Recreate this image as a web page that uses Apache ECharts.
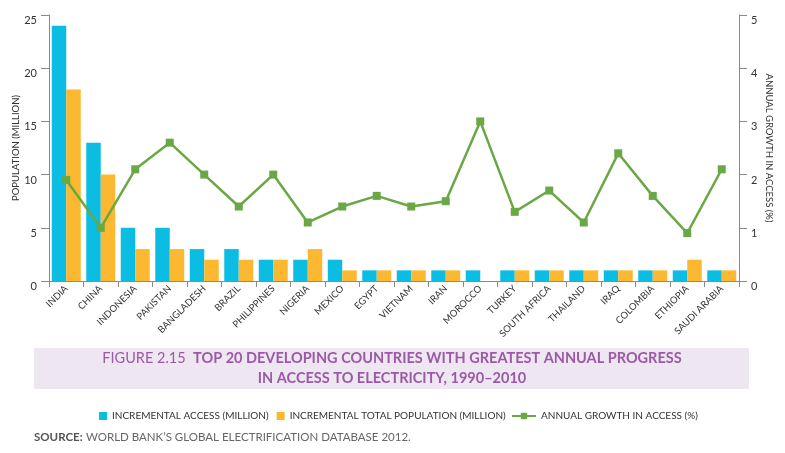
<!DOCTYPE html>
<html>
<head>
<meta charset="utf-8">
<script src="https://cdn.jsdelivr.net/npm/echarts@6/dist/echarts.min.js"></script>
<style>
html,body{margin:0;padding:0;background:#fff;}
#c{width:785px;height:453px;}
</style>
</head>
<body>
<div id="c"></div>
<script>
const countries = ['INDIA','CHINA','INDONESIA','PAKISTAN','BANGLADESH','BRAZIL','PHILIPPINES','NIGERIA','MEXICO','EGYPT','VIETNAM','IRAN','MOROCCO','TURKEY','SOUTH AFRICA','THAILAND','IRAQ','COLOMBIA','ETHIOPIA','SAUDI ARABIA'];
const incrementalAccess = [24,13,5,5,3,3,2,2,2,1,1,1,1,1,1,1,1,1,1,1];
const incrementalPopulation = [18,10,3,3,2,2,2,3,1,1,1,1,0,1,1,1,1,1,2,1];
const annualGrowth = [1.9,1.0,2.1,2.6,2.0,1.4,2.0,1.1,1.4,1.6,1.4,1.5,3.0,1.3,1.7,1.1,2.4,1.6,0.9,2.1];
const leftTicks = [0,5,10,15,20,25];
const rightTicks = [0,1,2,3,4,5];

const FONT = 'Lato';
const BLUE = '#0BBDE3', ORANGE = '#FBB830', GREEN = '#6AA745';
const chart = echarts.init(document.getElementById('c'), null, {renderer:'canvas'});
const axisCommon = {
  axisLine:{show:true, lineStyle:{color:'#8a8a8a', width:1}},
  axisTick:{show:true, length:8, lineStyle:{color:'#8a8a8a'}},
  splitLine:{show:false}
};
chart.setOption({
  animation:false,
  textStyle:{fontFamily:FONT},
  grid:{left:49, right:46, top:15, bottom:172, containLabel:false},
  legend:[{
    data:['INCREMENTAL ACCESS (MILLION)','INCREMENTAL TOTAL POPULATION (MILLION)'],
    left:94, top:406, itemWidth:8, itemHeight:8, itemGap:8, icon:'rect',
    textStyle:{fontFamily:FONT, fontSize:10, color:'#333'}
  },{
    data:['ANNUAL GROWTH IN ACCESS (%)'],
    left:506, top:406, itemWidth:24, itemHeight:8,
    textStyle:{fontFamily:FONT, fontSize:10, color:'#333'}
  }],
  xAxis:{
    type:'category', data:countries,
    ...axisCommon,
    axisTick:{show:true, length:6, alignWithLabel:false, lineStyle:{color:'#8a8a8a'}},
    axisLabel:{rotate:45, fontSize:9.5, color:'#333', margin:6, interval:0, fontFamily:FONT}
  },
  yAxis:[{
    type:'value', min:0, max:25, interval:5,
    ...axisCommon,
    axisTick:{show:true, length:8, inside:false, lineStyle:{color:'#8a8a8a'}},
    axisLabel:{fontSize:11, color:'#333', margin:12, verticalAlign:'top', fontFamily:FONT,
      formatter:v=>leftTicks.includes(v)?String(v):''},
    name:'POPULATION (MILLION)', nameLocation:'middle', nameGap:28, nameRotate:90,
    nameMoveOverlap:false,
    nameTextStyle:{fontSize:9.5, color:'#333', fontFamily:FONT}
  },{
    type:'value', min:0, max:5, interval:1, position:'right',
    ...axisCommon,
    axisLabel:{fontSize:11, color:'#333', margin:12, verticalAlign:'top', fontFamily:FONT,
      formatter:v=>rightTicks.includes(v)?String(v):''},
    name:'ANNUAL GROWTH IN ACCESS (%)', nameLocation:'middle', nameGap:25, nameRotate:-90,
    nameMoveOverlap:false,
    nameTextStyle:{fontSize:9.5, color:'#333', fontFamily:FONT}
  }],
  series:[{
    name:'INCREMENTAL ACCESS (MILLION)', type:'bar', data:incrementalAccess,
    itemStyle:{color:BLUE}, barGap:'0%', barCategoryGap:'16%'
  },{
    name:'INCREMENTAL TOTAL POPULATION (MILLION)', type:'bar', data:incrementalPopulation,
    itemStyle:{color:ORANGE}, barGap:'0%', barCategoryGap:'16%'
  },{
    name:'ANNUAL GROWTH IN ACCESS (%)', type:'line', yAxisIndex:1, data:annualGrowth,
    lineStyle:{color:GREEN, width:2.5}, itemStyle:{color:GREEN},
    symbol:'rect', symbolSize:8, showSymbol:true
  }],
  graphic:[{
    type:'rect', left:34, top:348, shape:{width:715, height:41},
    style:{fill:'#EEE6F1'}, silent:true
  },{
    type:'text', x:392, y:358,
    style:{
      text:'{a|FIGURE 2.15  }{b|TOP 20 DEVELOPING COUNTRIES WITH GREATEST ANNUAL PROGRESS}',
      align:'center', verticalAlign:'middle',
      rich:{
        a:{fontFamily:FONT, fontSize:14.5, fontWeight:'normal', fill:'#9B5AA6'},
        b:{fontFamily:FONT, fontSize:14.5, fontWeight:'bold', fill:'#9B5AA6'}
      }
    }
  },{
    type:'text', x:392, y:378,
    style:{
      text:'IN ACCESS TO ELECTRICITY, 1990–2010',
      align:'center', verticalAlign:'middle',
      fontFamily:FONT, fontSize:14.5, fontWeight:'bold', fill:'#9B5AA6'
    }
  },{
    type:'text', x:34, y:437,
    style:{
      text:'{a|SOURCE:} {b|WORLD BANK’S GLOBAL ELECTRIFICATION DATABASE 2012.}',
      verticalAlign:'middle',
      rich:{
        a:{fontFamily:FONT, fontSize:11.5, fontWeight:'bold', fill:'#555'},
        b:{fontFamily:FONT, fontSize:11.5, fill:'#666'}
      }
    }
  }]
});
</script>
</body>
</html>
